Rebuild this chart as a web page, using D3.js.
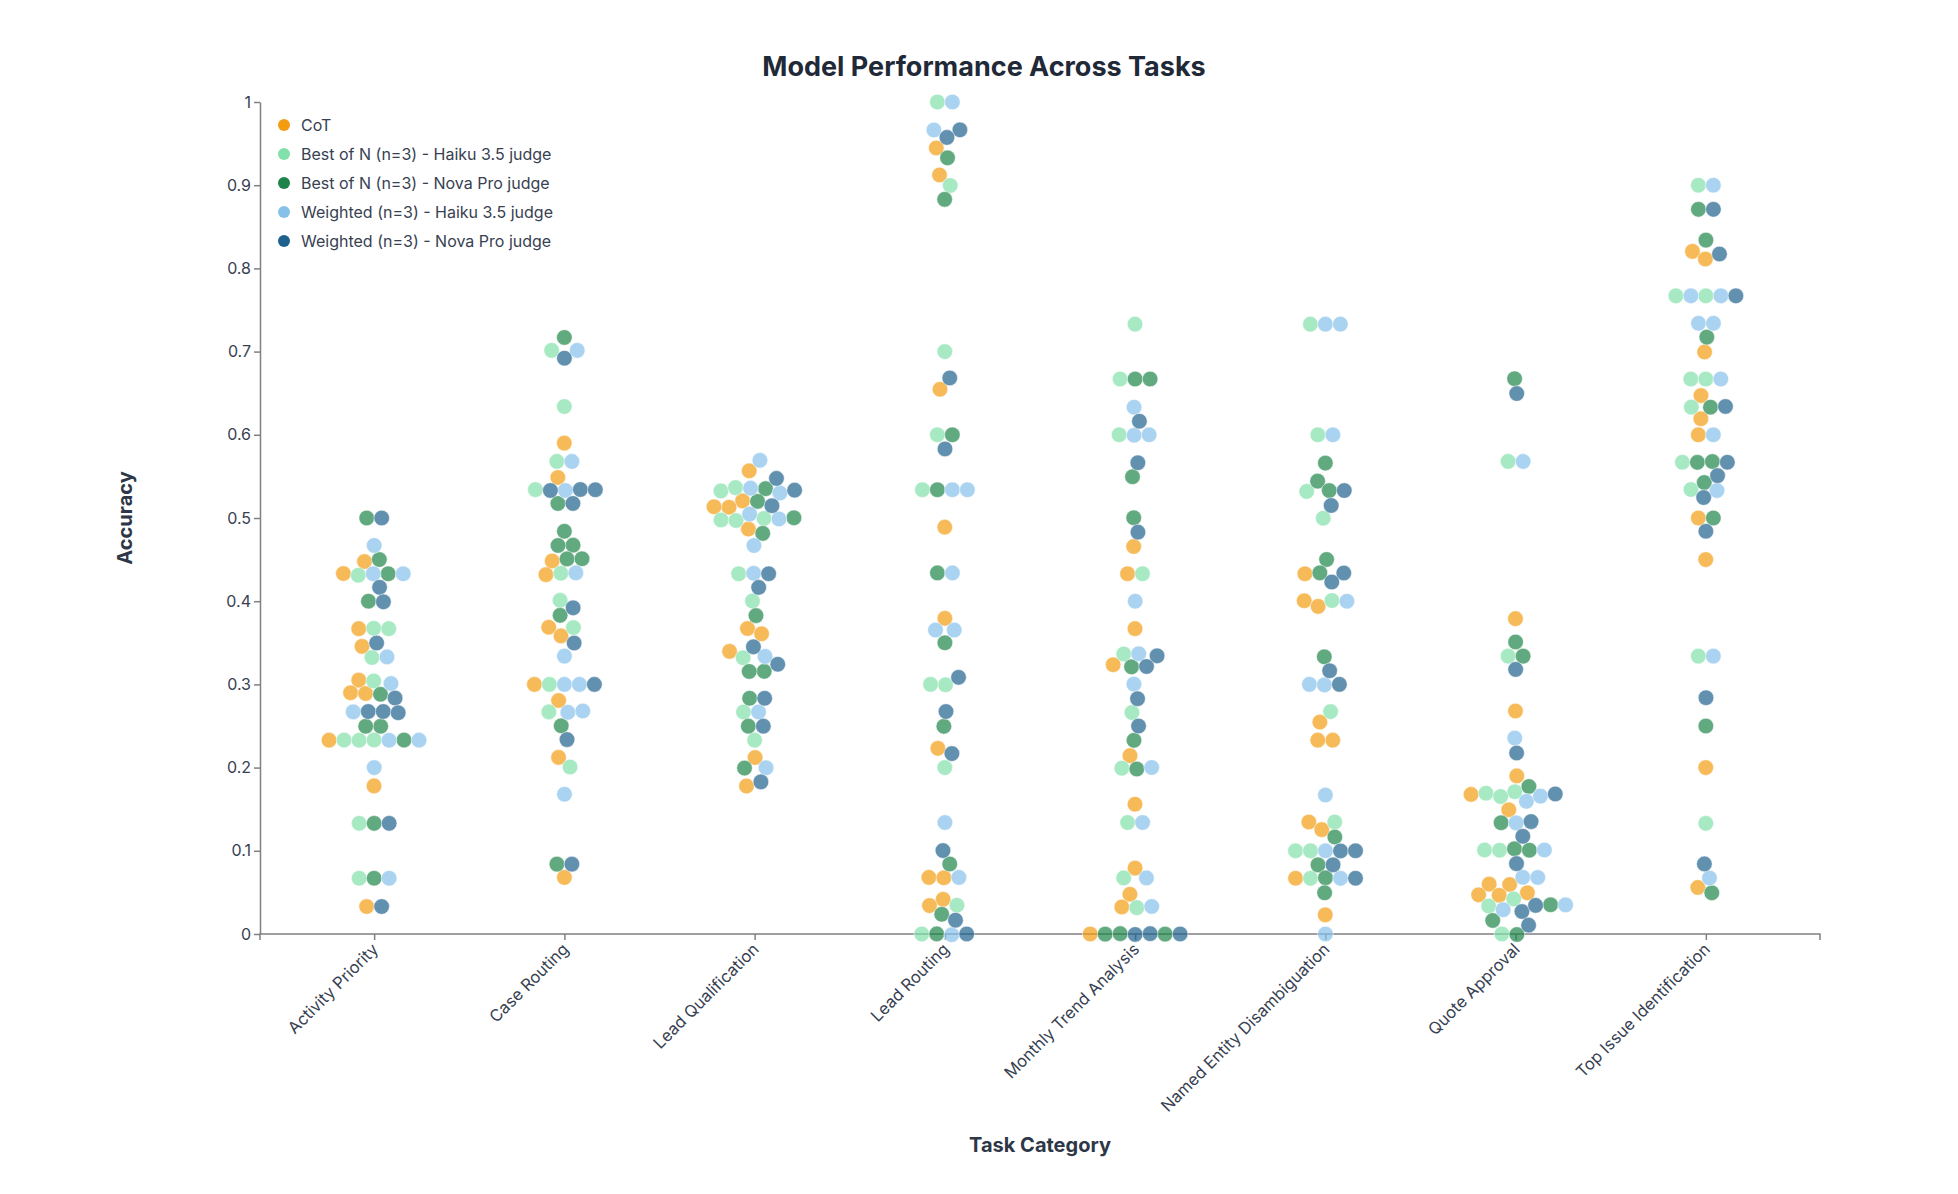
<!DOCTYPE html>
<html><head><meta charset="utf-8">
<script src="https://cdn.jsdelivr.net/npm/d3@7"></script>
<style>body{margin:0;background:#fff;font-family:Inter,"Noto Sans",sans-serif;}</style>
</head><body><svg id="c" width="1958" height="1194"></svg>
<script>
const categories = ["Activity Priority","Case Routing","Lead Qualification","Lead Routing","Monthly Trend Analysis","Named Entity Disambiguation","Quote Approval","Top Issue Identification"];
const seriesNames = ["CoT","Best of N (n=3) - Haiku 3.5 judge","Best of N (n=3) - Nova Pro judge","Weighted (n=3) - Haiku 3.5 judge","Weighted (n=3) - Nova Pro judge"];
const seriesColors = ["#f39c12","#82e0aa","#1e8449","#85c1e9","#1f618d"];
const yTicks = [0,0.1,0.2,0.3,0.4,0.5,0.6,0.7,0.8,0.9,1];

const cot = [
 [.445,.433,.367,.345,.305,.29,.29,.233,.178,.033],
 [.59,.546,.446,.434,.368,.359,.3,.278,.212,.068],
 [.557,.522,.512,.512,.49,.367,.361,.339,.211,.178],
 [.945,.912,.655,.489,.378,.223,.068,.068,.04,.034],
 [.466,.433,.367,.325,.212,.156,.078,.046,.033,0],
 [.433,.4,.395,.255,.233,.233,.134,.126,.067,.023],
 [.379,.268,.19,.168,.146,.057,.057,.046,.046,.046],
 [.82,.812,.7,.645,.62,.6,.5,.45,.2,.056]];
const bonHaiku = [
 [.433,.367,.367,.333,.3,.233,.233,.233,.133,.067],
 [.701,.634,.568,.534,.434,.4,.368,.3,.268,.201],
 [.533,.533,.5,.5,.5,.433,.4,.333,.267,.233],
 [1,.9,.7,.6,.534,.3,.3,.2,.034,0],
 [.733,.667,.6,.433,.333,.266,.2,.134,.068,.033],
 [.733,.6,.533,.5,.4,.267,.134,.1,.1,.067],
 [.568,.334,.168,.168,.168,.101,.101,.035,.035,0],
 [.9,.767,.767,.667,.667,.634,.567,.534,.334,.133]];
const bonNova = [
 [.5,.45,.433,.4,.292,.25,.25,.233,.133,.067],
 [.717,.518,.484,.467,.467,.451,.451,.384,.25,.084],
 [.533,.525,.5,.483,.383,.317,.317,.283,.25,.2],
 [.933,.883,.6,.534,.434,.35,.25,.084,.025,0],
 [.667,.667,.55,.5,.325,.233,.2,0,0,0],
 [.566,.542,.533,.45,.433,.333,.117,.083,.067,.05],
 [.667,.351,.334,.168,.135,.101,.101,.035,.019,0],
 [.871,.834,.717,.634,.567,.567,.542,.5,.25,.05]];
const wHaiku = [
 [.467,.433,.433,.333,.3,.267,.233,.233,.2,.067],
 [.701,.568,.534,.434,.334,.3,.3,.268,.268,.168],
 [.569,.533,.533,.5,.5,.467,.433,.333,.267,.2],
 [1,.966,.534,.534,.434,.366,.366,.134,.068,0],
 [.633,.6,.6,.4,.333,.3,.2,.134,.068,.033],
 [.733,.733,.6,.4,.3,.3,.167,.1,.067,0],
 [.568,.235,.168,.168,.135,.101,.068,.068,.035,.035],
 [.9,.767,.767,.734,.734,.667,.6,.534,.334,.067]];
const wNova = [
 [.5,.417,.4,.35,.283,.267,.267,.267,.133,.033],
 [.693,.534,.534,.534,.518,.392,.35,.3,.234,.084],
 [.54,.533,.517,.433,.417,.342,.325,.283,.25,.183],
 [.966,.958,.668,.583,.308,.267,.217,.1,.017,0],
 [.616,.566,.483,.333,.325,.283,.25,0,0,0],
 [.533,.516,.433,.425,.316,.3,.1,.1,.083,.067],
 [.65,.318,.218,.168,.135,.118,.085,.035,.035,.01],
 [.871,.817,.767,.634,.567,.55,.526,.484,.284,.084]];
const seriesValues = [cot,bonHaiku,bonNova,wHaiku,wNova];

const svg = d3.select("#c");
const m = {l:260,r:1820,t:102,b:934};
const x = d3.scalePoint().domain(categories).range([m.l,m.r]).padding(0.6);
const y = d3.scaleLinear().domain([0,1]).range([m.b,m.t]);
const R = 7.8;

svg.append("text").attr("x",984).attr("y",76).attr("text-anchor","middle")
  .attr("font-size",27).attr("font-weight",700).attr("fill","#1f2937").text("Model Performance Across Tasks");

const gy = svg.append("g").attr("transform",`translate(${m.l},0)`).call(d3.axisLeft(y).tickValues(yTicks).tickFormat(d3.format("~g")).tickSizeOuter(0));
const gx = svg.append("g").attr("transform",`translate(0,${m.b})`).call(d3.axisBottom(x).tickSizeOuter(6));
[gy,gx].forEach(g=>{g.selectAll("path,line").attr("stroke","#808080").attr("stroke-width",1.5);
  g.selectAll("text").attr("font-size",16).attr("fill","#374151").attr("font-family","Inter,'Noto Sans',sans-serif");});
gx.select(".domain").attr("d",`M${m.l},6V0H${m.r}V6`);
gx.selectAll(".tick text").attr("font-size",16.5).attr("text-anchor","end").attr("x",0).attr("y",0)
  .attr("dx","-0.5em").attr("dy","0.9em").attr("transform","rotate(-45)");

svg.append("text").attr("transform",`translate(132,${(m.t+m.b)/2}) rotate(-90)`).attr("text-anchor","middle")
  .attr("font-size",20).attr("font-weight",700).attr("fill","#2d3748").text("Accuracy");
svg.append("text").attr("x",(m.l+m.r)/2).attr("y",1152).attr("text-anchor","middle")
  .attr("font-size",20).attr("font-weight",700).attr("fill","#2d3748").text("Task Category");

const nodes = [];
categories.forEach((c,ci)=>{
  const cn=[];
  seriesValues.forEach((s,si)=>s[ci].forEach(v=>cn.push({c,si,v,x:x(c)+(si-2)*2,y:y(v),ty:y(v)})));
  const sim=d3.forceSimulation(cn).force("x",d3.forceX(x(c)).strength(0.05))
    .force("y",d3.forceY(d=>d.ty).strength(1)).force("col",d3.forceCollide(R-0.3).iterations(3)).stop();
  for(let i=0;i<300;i++) sim.tick();
  nodes.push(...cn);
});
svg.append("g").selectAll("circle").data(nodes).join("circle")
  .attr("cx",d=>d.x).attr("cy",d=>d.y).attr("r",R)
  .attr("fill",d=>seriesColors[d.si]).attr("fill-opacity",0.7).attr("stroke","#fff").attr("stroke-width",0.5);

const lg = svg.append("g").attr("transform","translate(284,125)");
seriesNames.forEach((n,i)=>{
  lg.append("circle").attr("cx",0).attr("cy",i*29).attr("r",6).attr("fill",seriesColors[i]);
  lg.append("text").attr("x",17).attr("y",i*29).attr("dy","0.35em").attr("font-size",16).attr("fill","#374151").text(n);
});
</script></body></html>
